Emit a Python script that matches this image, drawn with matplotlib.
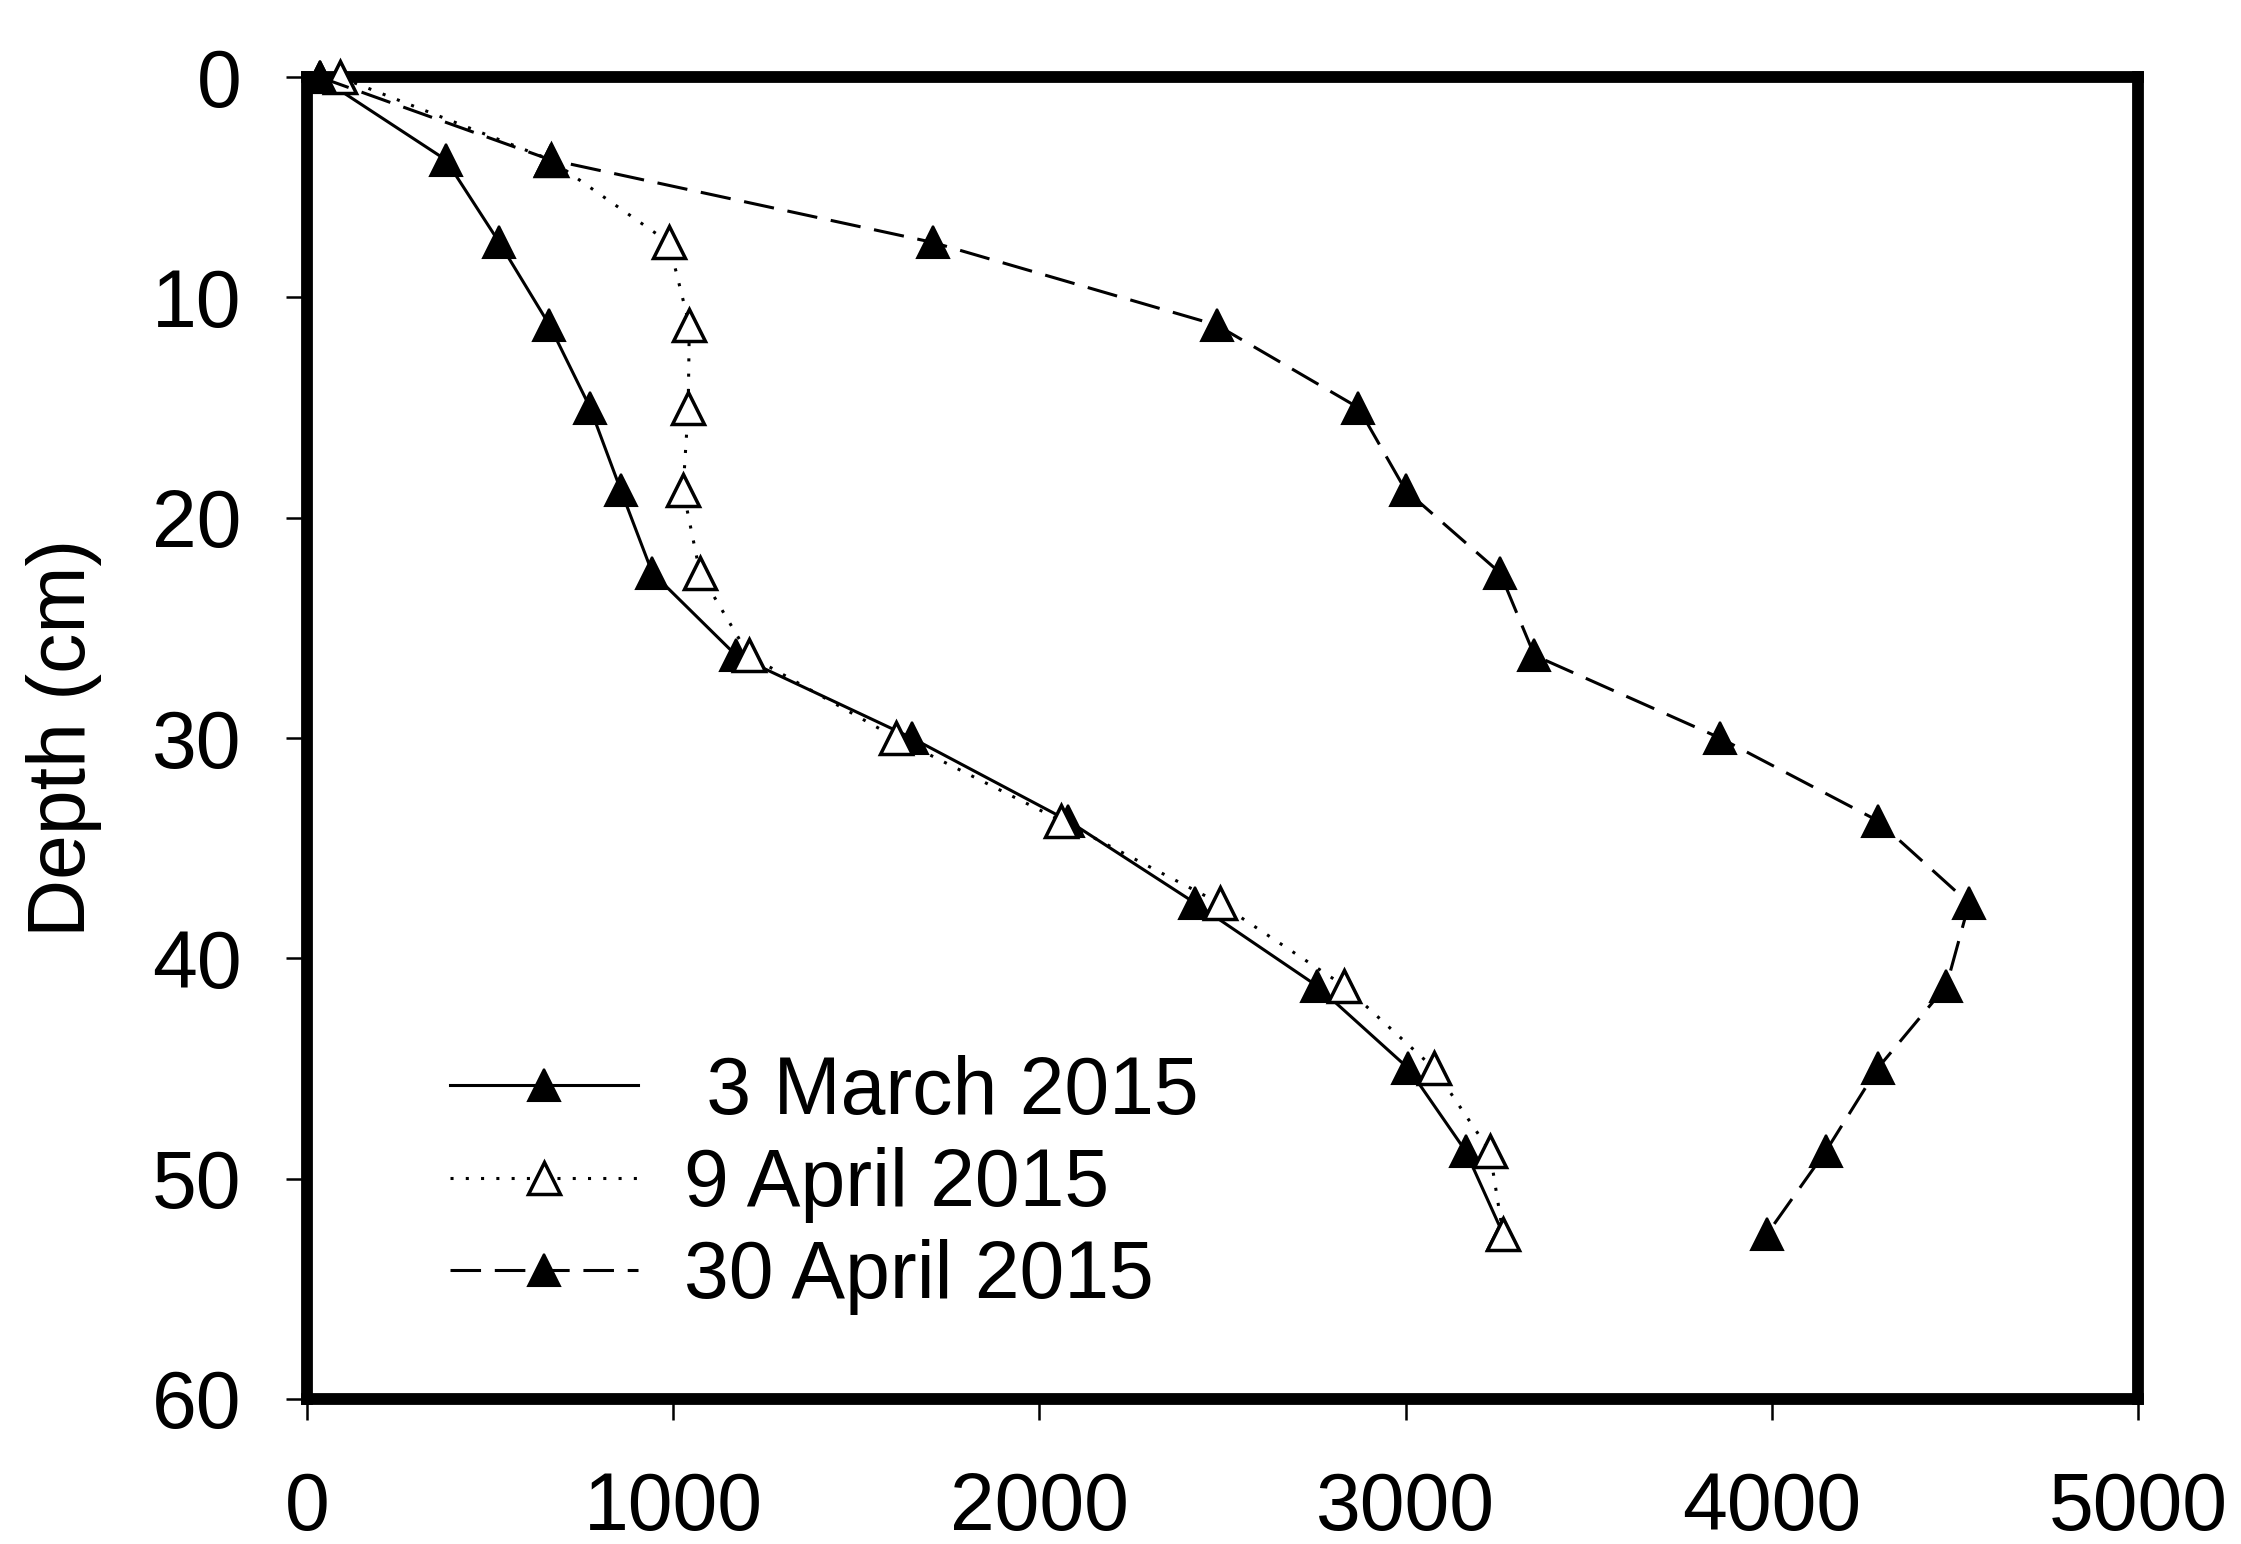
import matplotlib
matplotlib.use('Agg')
import matplotlib.pyplot as plt

# depth of each sample (cm)
depth = [0, 3.75, 7.5, 11.25, 15, 18.75, 22.5, 26.25, 30, 33.75, 37.5, 41.25, 45, 48.75, 52.5]

# values for each sampling date
march3 = [35, 379, 525, 662, 773, 857, 943, 1172, 1652, 2078, 2426, 2758, 3008, 3164, 3266]
april9 = [90, 665, 988, 1044, 1041, 1027, 1073, 1207, 1609, 2059, 2492, 2832, 3078, 3230, 3266]
april30 = [35, 665, 1709, 2484, 2871, 3000, 3258, 3352, 3859, 4289, 4539, 4477, 4289, 4148, 3988]

labels = [' 3 March 2015', '9 April 2015', '30 April 2015']

xticks = [0, 1000, 2000, 3000, 4000, 5000]
yticks = [0, 10, 20, 30, 40, 50, 60]

plt.rcParams['font.family'] = ['Liberation Sans', 'DejaVu Sans']

fig = plt.figure(figsize=(22.41, 15.44), dpi=100)
ax = fig.add_axes([0.137, 0.094, 0.817, 0.856])

lw = 2.2
ms = 23
ax.plot(march3, depth, color='k', lw=lw, ls='-', marker='^', ms=ms,
        mfc='k', mec='k', mew=1.5, clip_on=False, zorder=3, label=labels[0])
ax.plot(april9, depth, color='k', lw=lw, ls=(0, (1, 4)), marker='^', ms=ms,
        mfc='white', mec='k', mew=2.5, clip_on=False, zorder=3, label=labels[1])
ax.plot(april30, depth, color='k', lw=lw, ls=(0, (10, 4.5)), marker='^', ms=ms,
        mfc='k', mec='k', mew=1.5, clip_on=False, zorder=3, label=labels[2])

ax.set_xlim(0, 5000)
ax.set_ylim(60, 0)
ax.set_xticks(xticks)
ax.set_yticks(yticks)
ax.tick_params(axis='both', direction='out', length=15, width=1.8, labelsize=58)
ax.tick_params(axis='x', pad=37)
ax.tick_params(axis='y', pad=32)

for side in ['left', 'right', 'top', 'bottom']:
    ax.spines[side].set_linewidth(8.5)
    ax.spines[side].set_zorder(2.5)

ax.set_ylabel('Depth (cm)', fontsize=58, labelpad=36)

ax.legend(loc='center left', bbox_to_anchor=(0.078, 0.162), frameon=False,
          fontsize=58, handlelength=2.33, handletextpad=0.58, labelspacing=0.2,
          borderpad=0, borderaxespad=0, numpoints=1)

fig.savefig('out.png', dpi=100)
